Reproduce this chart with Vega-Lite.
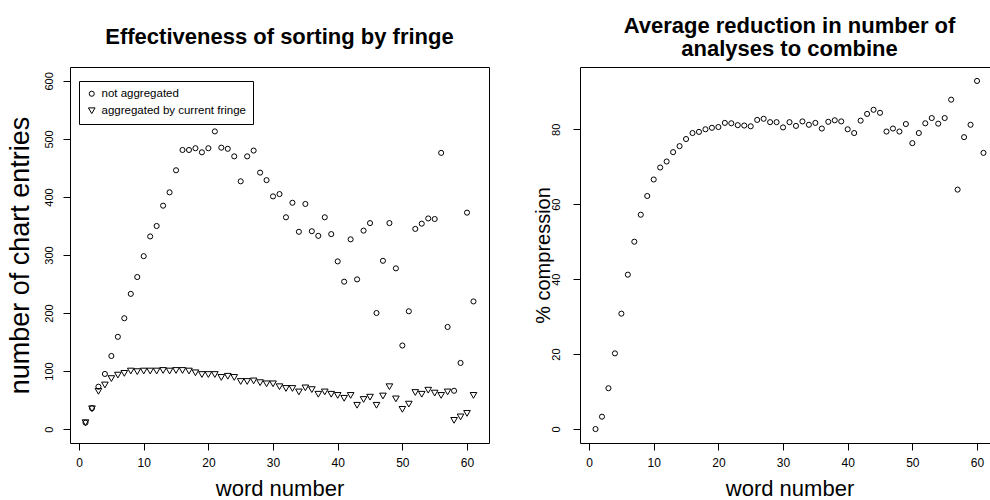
{
  "$schema": "https://vega.github.io/schema/vega-lite/v6.json",
  "background": "white",
  "padding": {"left": 5, "top": 14, "right": 0, "bottom": 0},
  "bounds": "flush",
  "spacing": 91,
  "config": {
    "font": "Liberation Sans",
    "view": {"stroke": "black", "strokeWidth": 1},
    "axis": {
      "domain": false, "grid": false, "tickColor": "black", "tickSize": 7, "tickWidth": 1,
      "labelColor": "black", "titleColor": "black", "labelFont": "Liberation Sans", "titleFont": "Liberation Sans",
      "titleFontWeight": "normal", "labelFontSize": 12, "titleFontSize": 22, "labelPadding": 7, "titlePadding": 10
    },
    "axisY": {"labelAngle": 270},
    "title": {"fontSize": 22, "fontWeight": "bold", "font": "Liberation Sans", "color": "black"}
  },
  "datasets": {
    "entries": [
      {"word": 1, "series": "not aggregated", "entries": 11}, {"word": 1, "series": "aggregated by current fringe", "entries": 11},
      {"word": 2, "series": "not aggregated", "entries": 36}, {"word": 2, "series": "aggregated by current fringe", "entries": 35},
      {"word": 3, "series": "not aggregated", "entries": 73}, {"word": 3, "series": "aggregated by current fringe", "entries": 65},
      {"word": 4, "series": "not aggregated", "entries": 95}, {"word": 4, "series": "aggregated by current fringe", "entries": 76},
      {"word": 5, "series": "not aggregated", "entries": 126}, {"word": 5, "series": "aggregated by current fringe", "entries": 87},
      {"word": 6, "series": "not aggregated", "entries": 159}, {"word": 6, "series": "aggregated by current fringe", "entries": 93},
      {"word": 7, "series": "not aggregated", "entries": 191}, {"word": 7, "series": "aggregated by current fringe", "entries": 96},
      {"word": 8, "series": "not aggregated", "entries": 233}, {"word": 8, "series": "aggregated by current fringe", "entries": 100},
      {"word": 9, "series": "not aggregated", "entries": 262}, {"word": 9, "series": "aggregated by current fringe", "entries": 99},
      {"word": 10, "series": "not aggregated", "entries": 298}, {"word": 10, "series": "aggregated by current fringe", "entries": 100},
      {"word": 11, "series": "not aggregated", "entries": 332}, {"word": 11, "series": "aggregated by current fringe", "entries": 100},
      {"word": 12, "series": "not aggregated", "entries": 350}, {"word": 12, "series": "aggregated by current fringe", "entries": 100},
      {"word": 13, "series": "not aggregated", "entries": 385}, {"word": 13, "series": "aggregated by current fringe", "entries": 101},
      {"word": 14, "series": "not aggregated", "entries": 408}, {"word": 14, "series": "aggregated by current fringe", "entries": 100},
      {"word": 15, "series": "not aggregated", "entries": 446}, {"word": 15, "series": "aggregated by current fringe", "entries": 101},
      {"word": 16, "series": "not aggregated", "entries": 481}, {"word": 16, "series": "aggregated by current fringe", "entries": 101},
      {"word": 17, "series": "not aggregated", "entries": 481}, {"word": 17, "series": "aggregated by current fringe", "entries": 100},
      {"word": 18, "series": "not aggregated", "entries": 484}, {"word": 18, "series": "aggregated by current fringe", "entries": 97},
      {"word": 19, "series": "not aggregated", "entries": 477}, {"word": 19, "series": "aggregated by current fringe", "entries": 94},
      {"word": 20, "series": "not aggregated", "entries": 484}, {"word": 20, "series": "aggregated by current fringe", "entries": 94},
      {"word": 21, "series": "not aggregated", "entries": 513}, {"word": 21, "series": "aggregated by current fringe", "entries": 94},
      {"word": 22, "series": "not aggregated", "entries": 485}, {"word": 22, "series": "aggregated by current fringe", "entries": 89},
      {"word": 23, "series": "not aggregated", "entries": 483}, {"word": 23, "series": "aggregated by current fringe", "entries": 91},
      {"word": 24, "series": "not aggregated", "entries": 470}, {"word": 24, "series": "aggregated by current fringe", "entries": 89},
      {"word": 25, "series": "not aggregated", "entries": 427}, {"word": 25, "series": "aggregated by current fringe", "entries": 82},
      {"word": 26, "series": "not aggregated", "entries": 470}, {"word": 26, "series": "aggregated by current fringe", "entries": 82},
      {"word": 27, "series": "not aggregated", "entries": 480}, {"word": 27, "series": "aggregated by current fringe", "entries": 83},
      {"word": 28, "series": "not aggregated", "entries": 442}, {"word": 28, "series": "aggregated by current fringe", "entries": 80},
      {"word": 29, "series": "not aggregated", "entries": 429}, {"word": 29, "series": "aggregated by current fringe", "entries": 78},
      {"word": 30, "series": "not aggregated", "entries": 401}, {"word": 30, "series": "aggregated by current fringe", "entries": 78},
      {"word": 31, "series": "not aggregated", "entries": 405}, {"word": 31, "series": "aggregated by current fringe", "entries": 73},
      {"word": 32, "series": "not aggregated", "entries": 365}, {"word": 32, "series": "aggregated by current fringe", "entries": 70},
      {"word": 33, "series": "not aggregated", "entries": 390}, {"word": 33, "series": "aggregated by current fringe", "entries": 70},
      {"word": 34, "series": "not aggregated", "entries": 340}, {"word": 34, "series": "aggregated by current fringe", "entries": 64},
      {"word": 35, "series": "not aggregated", "entries": 388}, {"word": 35, "series": "aggregated by current fringe", "entries": 71},
      {"word": 36, "series": "not aggregated", "entries": 341}, {"word": 36, "series": "aggregated by current fringe", "entries": 68},
      {"word": 37, "series": "not aggregated", "entries": 333}, {"word": 37, "series": "aggregated by current fringe", "entries": 60},
      {"word": 38, "series": "not aggregated", "entries": 365}, {"word": 38, "series": "aggregated by current fringe", "entries": 64},
      {"word": 39, "series": "not aggregated", "entries": 336}, {"word": 39, "series": "aggregated by current fringe", "entries": 60},
      {"word": 40, "series": "not aggregated", "entries": 289}, {"word": 40, "series": "aggregated by current fringe", "entries": 58},
      {"word": 41, "series": "not aggregated", "entries": 254}, {"word": 41, "series": "aggregated by current fringe", "entries": 53},
      {"word": 42, "series": "not aggregated", "entries": 327}, {"word": 42, "series": "aggregated by current fringe", "entries": 58},
      {"word": 43, "series": "not aggregated", "entries": 258}, {"word": 43, "series": "aggregated by current fringe", "entries": 41},
      {"word": 44, "series": "not aggregated", "entries": 342}, {"word": 44, "series": "aggregated by current fringe", "entries": 51},
      {"word": 45, "series": "not aggregated", "entries": 355}, {"word": 45, "series": "aggregated by current fringe", "entries": 55},
      {"word": 46, "series": "not aggregated", "entries": 200}, {"word": 46, "series": "aggregated by current fringe", "entries": 41},
      {"word": 47, "series": "not aggregated", "entries": 290}, {"word": 47, "series": "aggregated by current fringe", "entries": 57},
      {"word": 48, "series": "not aggregated", "entries": 355}, {"word": 48, "series": "aggregated by current fringe", "entries": 73},
      {"word": 49, "series": "not aggregated", "entries": 277}, {"word": 49, "series": "aggregated by current fringe", "entries": 52},
      {"word": 50, "series": "not aggregated", "entries": 144}, {"word": 50, "series": "aggregated by current fringe", "entries": 34},
      {"word": 51, "series": "not aggregated", "entries": 203}, {"word": 51, "series": "aggregated by current fringe", "entries": 43},
      {"word": 52, "series": "not aggregated", "entries": 345}, {"word": 52, "series": "aggregated by current fringe", "entries": 63},
      {"word": 53, "series": "not aggregated", "entries": 354}, {"word": 53, "series": "aggregated by current fringe", "entries": 60},
      {"word": 54, "series": "not aggregated", "entries": 363}, {"word": 54, "series": "aggregated by current fringe", "entries": 67},
      {"word": 55, "series": "not aggregated", "entries": 362}, {"word": 55, "series": "aggregated by current fringe", "entries": 62},
      {"word": 56, "series": "not aggregated", "entries": 476}, {"word": 56, "series": "aggregated by current fringe", "entries": 58},
      {"word": 57, "series": "not aggregated", "entries": 176}, {"word": 57, "series": "aggregated by current fringe", "entries": 64},
      {"word": 58, "series": "not aggregated", "entries": 66}, {"word": 58, "series": "aggregated by current fringe", "entries": 15},
      {"word": 59, "series": "not aggregated", "entries": 114}, {"word": 59, "series": "aggregated by current fringe", "entries": 21},
      {"word": 60, "series": "not aggregated", "entries": 373}, {"word": 60, "series": "aggregated by current fringe", "entries": 27},
      {"word": 61, "series": "not aggregated", "entries": 220}, {"word": 61, "series": "aggregated by current fringe", "entries": 58}
    ],
    "compression": [
      {"word": 1, "compression": 0}, {"word": 2, "compression": 3.3}, {"word": 3, "compression": 10.9}, {"word": 4, "compression": 20.2},
      {"word": 5, "compression": 30.8}, {"word": 6, "compression": 41.2}, {"word": 7, "compression": 50.0}, {"word": 8, "compression": 57.2},
      {"word": 9, "compression": 62.2}, {"word": 10, "compression": 66.6}, {"word": 11, "compression": 69.8}, {"word": 12, "compression": 71.4},
      {"word": 13, "compression": 73.9}, {"word": 14, "compression": 75.5}, {"word": 15, "compression": 77.4}, {"word": 16, "compression": 79.0},
      {"word": 17, "compression": 79.3}, {"word": 18, "compression": 80.0}, {"word": 19, "compression": 80.4}, {"word": 20, "compression": 80.6},
      {"word": 21, "compression": 81.7}, {"word": 22, "compression": 81.6}, {"word": 23, "compression": 81.1}, {"word": 24, "compression": 81.0},
      {"word": 25, "compression": 80.8}, {"word": 26, "compression": 82.5}, {"word": 27, "compression": 82.8}, {"word": 28, "compression": 81.9},
      {"word": 29, "compression": 81.9}, {"word": 30, "compression": 80.5}, {"word": 31, "compression": 81.9}, {"word": 32, "compression": 80.9},
      {"word": 33, "compression": 82.1}, {"word": 34, "compression": 81.2}, {"word": 35, "compression": 81.7}, {"word": 36, "compression": 80.2},
      {"word": 37, "compression": 82.0}, {"word": 38, "compression": 82.4}, {"word": 39, "compression": 82.1}, {"word": 40, "compression": 80.0},
      {"word": 41, "compression": 79.0}, {"word": 42, "compression": 82.3}, {"word": 43, "compression": 84.1}, {"word": 44, "compression": 85.2},
      {"word": 45, "compression": 84.4}, {"word": 46, "compression": 79.4}, {"word": 47, "compression": 80.2}, {"word": 48, "compression": 79.4},
      {"word": 49, "compression": 81.4}, {"word": 50, "compression": 76.3}, {"word": 51, "compression": 79.0}, {"word": 52, "compression": 81.6},
      {"word": 53, "compression": 83.0}, {"word": 54, "compression": 81.5}, {"word": 55, "compression": 83.0}, {"word": 56, "compression": 87.9},
      {"word": 57, "compression": 63.9}, {"word": 58, "compression": 77.9}, {"word": 59, "compression": 81.2}, {"word": 60, "compression": 92.9},
      {"word": 61, "compression": 73.7}
    ]
  },
  "hconcat": [
    {
      "width": 419, "height": 376,
      "title": {"text": "Effectiveness of sorting by fringe", "offset": 18},
      "data": {"name": "entries"},
      "mark": {"type": "point", "filled": false, "color": "black", "strokeWidth": 1, "opacity": 1},
      "encoding": {
        "x": {"field": "word", "type": "quantitative", "scale": {"domain": [-1.4, 63.4], "nice": false, "zero": false},
              "axis": {"values": [0, 10, 20, 30, 40, 50, 60], "title": "word number"}},
        "y": {"field": "entries", "type": "quantitative", "scale": {"domain": [-24, 624], "nice": false, "zero": false},
              "axis": {"values": [0, 100, 200, 300, 400, 500, 600], "title": "number of chart entries", "labelAngle": 270,
                       "labelFontSize": 11, "labelPadding": 9, "titleFontSize": 27, "titlePadding": 9}},
        "shape": {"field": "series", "type": "nominal",
                  "scale": {"domain": ["not aggregated", "aggregated by current fringe"], "range": ["circle", "triangle-down"]},
                  "legend": {"title": null, "orient": "none", "legendX": 9, "legendY": 14, "strokeColor": "black", "fillColor": "white",
                             "padding": 7, "cornerRadius": 0, "labelFontSize": 11.5, "labelColor": "black", "rowPadding": 4,
                             "symbolStrokeColor": "black", "symbolStrokeWidth": 1, "labelOffset": 4}},
        "size": {"field": "series", "type": "nominal",
                 "scale": {"domain": ["not aggregated", "aggregated by current fringe"], "range": [26, 44]}}
      }
    },
    {
      "width": 419, "height": 376,
      "title": {"text": ["Average reduction in number of", "analyses to combine"], "offset": 6, "lineHeight": 23},
      "data": {"name": "compression"},
      "mark": {"type": "point", "shape": "circle", "filled": false, "color": "black", "strokeWidth": 1, "opacity": 1, "size": 26},
      "encoding": {
        "x": {"field": "word", "type": "quantitative", "scale": {"domain": [-1.4, 63.4], "nice": false, "zero": false},
              "axis": {"values": [0, 10, 20, 30, 40, 50, 60], "title": "word number"}},
        "y": {"field": "compression", "type": "quantitative", "scale": {"domain": [-3.72, 96.62], "nice": false, "zero": false},
              "axis": {"values": [0, 20, 40, 60, 80], "title": "% compression", "labelAngle": 270,
                       "labelFontSize": 11, "labelPadding": 12, "titleFontSize": 20, "titlePadding": -3}}
      }
    }
  ]
}
